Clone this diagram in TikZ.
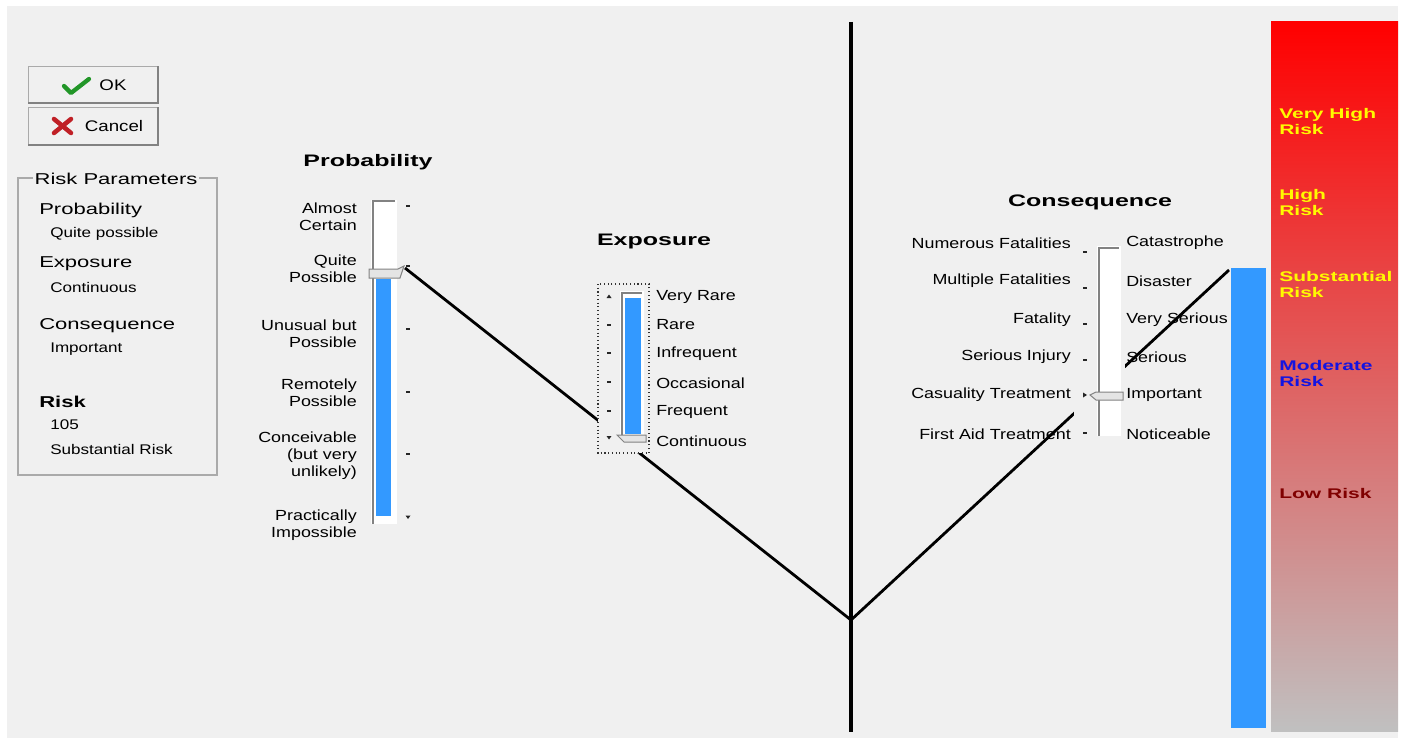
\documentclass[tikz,border=0pt]{standalone}
\usepackage{fontspec}
\setmainfont{Liberation Sans}
\newfontfamily\uifont{Liberation Sans}[FakeStretch=1.22]
\newfontfamily\panelfont{Liberation Sans}[FakeStretch=1.4]
\newfontfamily\headfont{Liberation Sans}[FakeStretch=1.5]
\usepackage{xcolor}
\definecolor{winbg}{RGB}{240,240,240}
\definecolor{barblue}{RGB}{51,153,255}
\definecolor{edgegray}{RGB}{130,130,130}
\definecolor{frameGray}{RGB}{170,170,170}
\definecolor{thumbgray}{RGB}{228,228,228}
\definecolor{riskgray}{RGB}{192,192,192}
\definecolor{okgreen}{RGB}{34,150,40}
\definecolor{cancelred}{RGB}{192,32,38}
\definecolor{riskyellow}{RGB}{255,250,0}
\definecolor{riskblue}{RGB}{20,20,225}
\definecolor{riskmaroon}{RGB}{128,0,0}

\tikzset{
  slabel/.style={inner sep=0.75pt, font=\uifont\fontsize{11}{12.75}\selectfont},
  lslabel/.style={slabel, anchor=east, align=right},
  rslabel/.style={slabel, anchor=west, align=left},
  heading/.style={inner sep=0.75pt, font=\headfont\bfseries\fontsize{12.5}{15}\selectfont},
  risklabel/.style={anchor=west, align=left, inner sep=0.75pt, font=\headfont\bfseries\fontsize{10.5}{12}\selectfont},
  panelhead/.style={anchor=west, inner sep=0.75pt, font=\panelfont\fontsize{11.8}{14}\selectfont},
  panelsub/.style={anchor=west, inner sep=0.75pt, font=\uifont\fontsize{10.5}{12}\selectfont},
  btntext/.style={inner sep=0.75pt, font=\uifont\fontsize{11.5}{13}\selectfont},
  tickmark/.style={draw=black!85, line width=0.8pt},
  track/.style={fill=white, draw=none},
  thumb/.style={fill=thumbgray, draw=edgegray, line width=0.75pt},
  riskline/.style={draw=black, line width=2.1pt},
}

\begin{document}
\begin{tikzpicture}[x=0.75pt,y=0.75pt,yscale=-1,xscale=1]
\useasboundingbox (0,0) rectangle (1405,738);

%Shape: Window background
\fill [white] (0,0) rectangle (1405,738);
\fill [winbg] (7,6) rectangle (1398,738);

%Shape: Risk scale gradient
\shade [top color=red, bottom color=riskgray] (1271,22) rectangle (1398,731);
%Shape: Risk level bar
\fill [barblue] (1231,268) rectangle (1266,728);

% Construction points
\coordinate (pthumb) at (405,268);
\coordinate (apex) at (851,620);
\coordinate (rtop) at (1229,270);
\coordinate (vtop) at (851,22);
\coordinate (vbot) at (851,732);

%Straight Lines
\draw [riskline, line width=2.4pt] (vtop) -- (vbot);
\draw [riskline] (pthumb) -- (apex);
\draw [riskline] (apex) -- (rtop);

%Shape: OK button
\draw [draw=frameGray, fill=winbg] (28,66) rectangle (158,103);
\draw [edgegray, line width=1.2pt] (28,103) -- (158,103) -- (158,66);
\draw [okgreen, line width=3.2pt, line cap=round, line join=round] (64,86) -- (71,93) -- (89,79);
\node [btntext] (oktext) at (113,85) {OK};
%Shape: Cancel button
\draw [draw=frameGray, fill=winbg] (28,107) rectangle (158,145);
\draw [edgegray, line width=1.2pt] (28,145) -- (158,145) -- (158,107);
\draw [cancelred, line width=3.4pt, line cap=round] (54,119) -- (71,133);
\draw [cancelred, line width=3.4pt, line cap=round] (54,133) -- (71,119);
\node [btntext] (canceltext) at (114,126) {Cancel};

%Shape: Risk Parameters group
\draw [frameGray, line width=0.9pt] (18,178) rectangle (217,475);
\node [inner sep=1.5pt, fill=winbg, font=\panelfont\fontsize{11.8}{14}\selectfont] (grouptitle) at (116,179) {Risk Parameters};
\node [panelhead] (pprob) at (38,210) {Probability};
\node [panelsub] (pprobval) at (49,234) {Quite possible};
\node [panelhead] (pexp) at (38,264) {Exposure};
\node [panelsub] (pexpval) at (49,287) {Continuous};
\node [panelhead] (pcons) at (38,326) {Consequence};
\node [panelsub] (pconsval) at (49,349) {Important};
\node [panelhead, font=\panelfont\bfseries\fontsize{11.8}{14}\selectfont] (prisk) at (38,402) {Risk};
\node [panelsub] (priskval) at (49,425) {105};
\node [panelsub] (prisktext) at (49,449) {Substantial Risk};

%Shape: Probability slider
\fill [track] (371,200) rectangle (397,524);
\draw [edgegray, line width=1.5pt] (372.5,524) -- (372.5,200.5) -- (395,200.5);
\fill [barblue] (376,279) rectangle (391,516);
\draw [thumb] (369,269) -- (398,269) -- (404,266) -- (400,278) -- (369,278) -- cycle;
\draw [tickmark] (406,206) -- (410,206);
\draw [tickmark] (406,266) -- (410,266);
\draw [tickmark] (406,329) -- (410,329);
\draw [tickmark] (406,392) -- (410,392);
\draw [tickmark] (406,454) -- (410,454);
\fill [black!85] (405.5,515.5) -- (410.5,515.5) -- (408,519) -- cycle;

% Text Node
\node [heading] (probhead) at (368,162) {Probability};
\node [lslabel] (almost) at (358,217) {Almost\\Certain};
\node [lslabel] (quite) at (358,269) {Quite\\Possible};
\node [lslabel] (unusual) at (358,334) {Unusual but\\Possible};
\node [lslabel] (remote) at (358,393) {Remotely\\Possible};
\node [lslabel] (conceive) at (358,456) {Conceivable\\(but very\\unlikely)};
\node [lslabel] (practical) at (358,525) {Practically\\Impossible};

%Shape: Exposure slider
\draw [draw=black!80, fill=winbg, dotted, line width=0.8pt] (598,284) rectangle (649,453);
\fill [track] (620,291) rectangle (644,438);
\draw [edgegray, line width=1.5pt] (621.5,438) -- (621.5,292.5) -- (642,292.5);
\fill [barblue] (625,298) rectangle (641,434);
\draw [thumb] (617,435) -- (646,435) -- (646,442) -- (624,442) -- cycle;
\fill [black!85] (606.5,298) -- (611.5,298) -- (609,294.5) -- cycle;
\draw [tickmark] (607,325) -- (611,325);
\draw [tickmark] (607,353) -- (611,353);
\draw [tickmark] (607,382) -- (611,382);
\draw [tickmark] (607,411) -- (611,411);
\fill [black!85] (606.5,436) -- (611.5,436) -- (609,439.5) -- cycle;

% Text Node
\node [heading] (exphead) at (654,241) {Exposure};
\node [rslabel] (veryrare) at (655,297) {Very Rare};
\node [rslabel] (rare) at (655,325) {Rare};
\node [rslabel] (infreq) at (655,354) {Infrequent};
\node [rslabel] (occas) at (655,383) {Occasional};
\node [rslabel] (freq) at (655,412) {Frequent};
\node [rslabel] (contin) at (655,441) {Continuous};

%Shape: Consequence slider
\fill [winbg] (1074,238) rectangle (1125,441);
\fill [track] (1097,246) rectangle (1121,436);
\draw [edgegray, line width=1.5pt] (1098.5,436) -- (1098.5,247.5) -- (1119,247.5);
\draw [thumb] (1090,395) -- (1096,392) -- (1123,392) -- (1123,400) -- (1096,400) -- cycle;
\draw [tickmark] (1083,252) -- (1087,252);
\draw [tickmark] (1083,288) -- (1087,288);
\draw [tickmark] (1083,324) -- (1087,324);
\draw [tickmark] (1083,360) -- (1087,360);
\fill [black!85] (1083,392.5) -- (1083,397.5) -- (1087,395) -- cycle;
\draw [tickmark] (1083,433) -- (1087,433);

% Text Node
\node [heading] (conshead) at (1090,202) {Consequence};
\node [lslabel] (numerous) at (1072,243) {Numerous Fatalities};
\node [lslabel] (multiple) at (1072,281) {Multiple Fatalities};
\node [lslabel] (fatality) at (1072,320) {Fatality};
\node [lslabel] (serinj) at (1072,357) {Serious Injury};
\node [lslabel] (casualty) at (1072,395) {Casuality Treatment};
\node [lslabel] (firstaid) at (1072,434) {First Aid Treatment};
\node [rslabel] (catas) at (1125,243) {Catastrophe};
\node [rslabel] (disaster) at (1125,281) {Disaster};
\node [rslabel] (veryser) at (1125,320) {Very Serious};
\node [rslabel] (serious) at (1125,357) {Serious};
\node [rslabel] (important) at (1125,395) {Important};
\node [rslabel] (notice) at (1125,434) {Noticeable};

% Text Node
\node [risklabel, riskyellow] (vhigh) at (1278,121) {Very High\\Risk};
\node [risklabel, riskyellow] (high) at (1278,202) {High\\Risk};
\node [risklabel, riskyellow] (subst) at (1278,284) {Substantial\\Risk};
\node [risklabel, riskblue] (moder) at (1278,373) {Moderate\\Risk};
\node [risklabel, riskmaroon] (low) at (1278,493) {Low Risk};

\end{tikzpicture}
\end{document}
